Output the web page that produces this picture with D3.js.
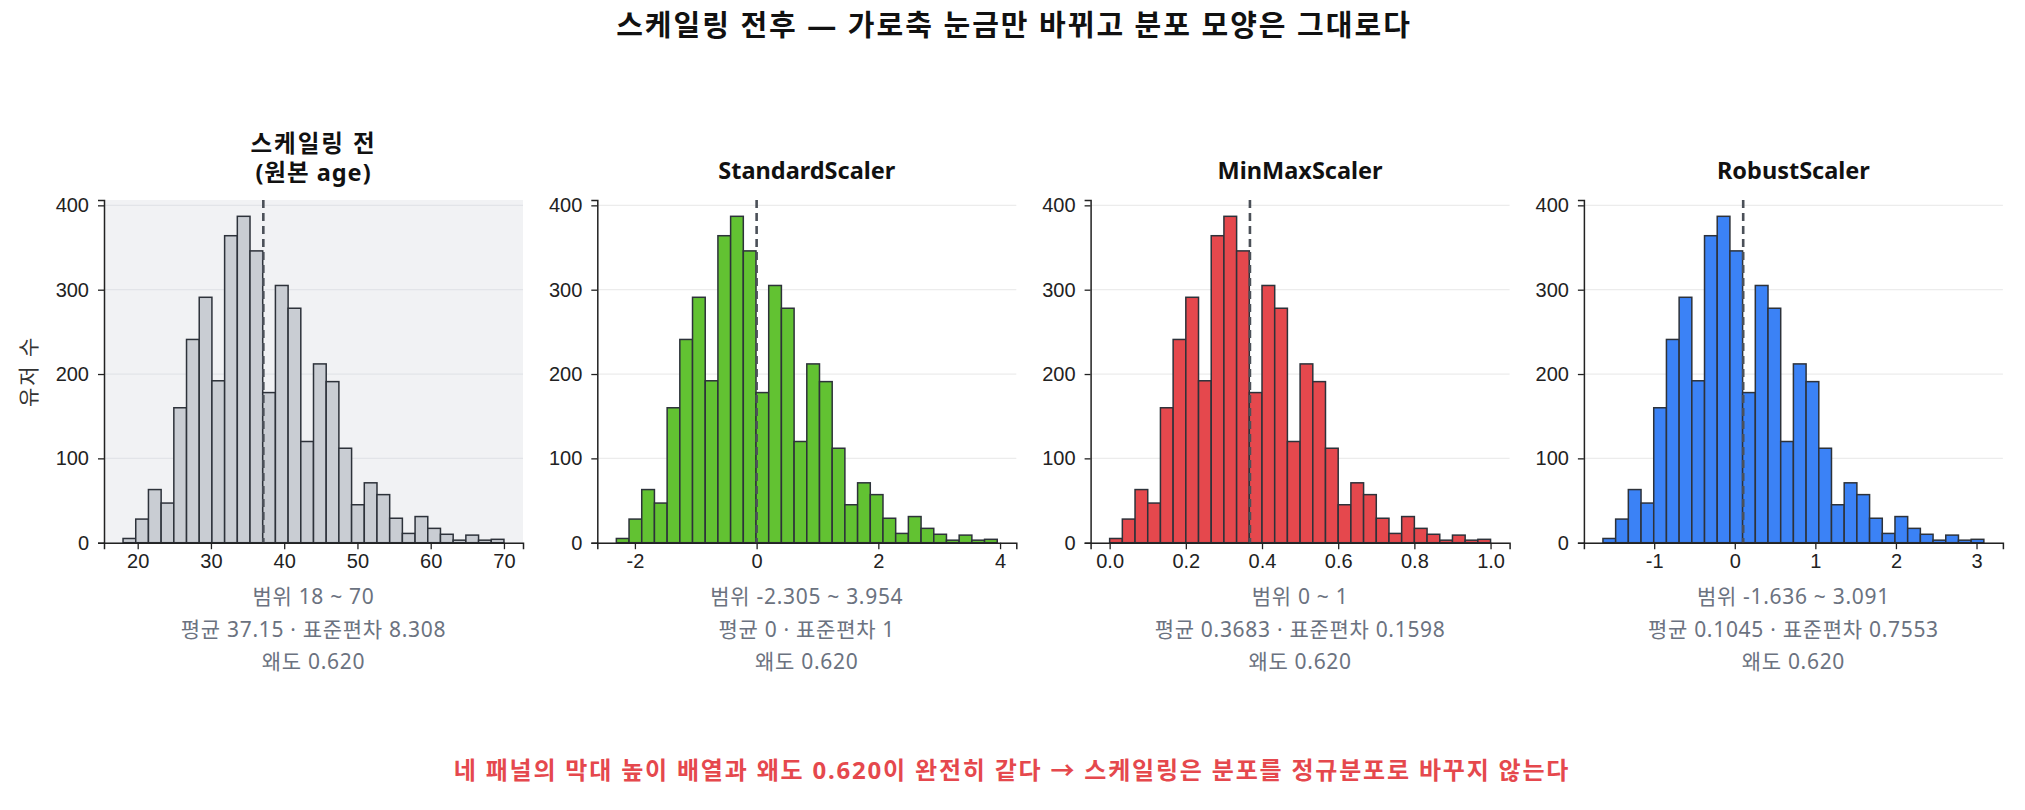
<!DOCTYPE html>
<html lang="ko">
<head>
  <meta charset="UTF-8">
  <title>스케일링 전후 히스토그램</title>
  <script src="https://d3js.org/d3.v7.min.js"></script>
  <style>
    body {
      margin: 0;
      background: #fff;
      font-family: "Noto Sans", "Noto Sans CJK KR", sans-serif;
    }
    svg { display: block; }
    .tick text { font-size: 20px; fill: #222; }
    .stat { font-size: 21px; fill: #6b7280; letter-spacing: 0.7px; }
  </style>
</head>
<body>
<svg width="2025" height="810"></svg>
<script>
  // bin counts (30 bins, identical in every panel)
  const counts = [5, 28, 63, 47, 160, 241, 291, 192, 364, 387, 346, 178, 305, 278, 120,
                  212, 191, 112, 45, 71, 57, 29, 11, 31, 17, 10, 3, 9, 3, 4];

  const titles = [["스케일링 전", "(원본 age)"], ["StandardScaler"], ["MinMaxScaler"], ["RobustScaler"]];
  const colors = ["#c9cdd3", "#62c232", "#e5484d", "#3b82f6"];
  const mins   = [18, -2.305, 0, -1.636];
  const maxs   = [70, 3.954, 1, 3.091];
  const means  = [37.15, 0, 0.3683, 0.1045];
  const stats  = [
    ["범위 18 ~ 70", "평균 37.15 · 표준편차 8.308", "왜도 0.620"],
    ["범위 -2.305 ~ 3.954", "평균 0 · 표준편차 1", "왜도 0.620"],
    ["범위 0 ~ 1", "평균 0.3683 · 표준편차 0.1598", "왜도 0.620"],
    ["범위 -1.636 ~ 3.091", "평균 0.1045 · 표준편차 0.7553", "왜도 0.620"]
  ];
  const xTicks = [
    [20, 30, 40, 50, 60, 70],
    [-2, 0, 2, 4],
    [0, 0.2, 0.4, 0.6, 0.8, 1.0],
    [-1, 0, 1, 2, 3]
  ];
  // plain hyphen for negatives, like the original
  const xFormats = [d => String(d), d => String(d), d => d.toFixed(1), d => String(d)];
  const yTicks = [0, 100, 200, 300, 400];

  const svg = d3.select("svg");
  const edge = "#2d323a";

  const plotTop = 200, plotBottom = 542.7;
  const panelW = 419, panelStep = 493.3, left0 = 104;

  const y = d3.scaleLinear()
    .domain([0, d3.max(counts) * 1.05])
    .range([plotBottom, plotTop]);

  titles.forEach((title, i) => {
    const x0 = left0 + i * panelStep;
    const span = maxs[i] - mins[i];
    const x = d3.scaleLinear()
      .domain([mins[i] - span * 0.05, maxs[i] + span * 0.05])
      .range([x0, x0 + panelW]);
    const edges = d3.range(counts.length + 1).map(k => mins[i] + span * k / counts.length);

    const g = svg.append("g");

    // panel 1 gets a light background
    if (i === 0) {
      g.append("rect")
        .attr("x", x0).attr("y", plotTop)
        .attr("width", panelW).attr("height", plotBottom - plotTop)
        .attr("fill", "#f1f2f4");
    }

    // horizontal grid
    g.append("g").selectAll("line")
      .data(yTicks)
      .join("line")
      .attr("x1", x0).attr("x2", x0 + panelW)
      .attr("y1", d => y(d)).attr("y2", d => y(d))
      .attr("stroke", i === 0 ? "#e2e4e8" : "#ececec")
      .attr("stroke-width", 1.3);

    // bars
    g.append("g").selectAll("rect")
      .data(counts)
      .join("rect")
      .attr("x", (d, k) => x(edges[k]))
      .attr("width", (d, k) => x(edges[k + 1]) - x(edges[k]))
      .attr("y", d => y(d))
      .attr("height", d => y(0) - y(d))
      .attr("fill", colors[i])
      .attr("stroke", edge)
      .attr("stroke-width", 1.5);

    // mean line
    g.append("line")
      .attr("x1", x(means[i])).attr("x2", x(means[i]))
      .attr("y1", plotTop).attr("y2", plotBottom)
      .attr("stroke", "#4b5058")
      .attr("stroke-width", 2.6)
      .attr("stroke-dasharray", "8,5");

    // axes
    const xAxis = d3.axisBottom(x)
      .tickValues(xTicks[i])
      .tickFormat(xFormats[i])
      .tickSize(6.5)
      .tickPadding(5);
    const gx = g.append("g")
      .attr("transform", `translate(0,${plotBottom})`)
      .call(xAxis);
    gx.select(".domain").attr("stroke", "#222").attr("stroke-width", 1.5);
    gx.selectAll(".tick line").attr("stroke", "#222").attr("stroke-width", 1.3);

    const yAxis = d3.axisLeft(y)
      .tickValues(yTicks)
      .tickSize(6)
      .tickPadding(9);
    const gy = g.append("g")
      .attr("transform", `translate(${x0},0)`)
      .call(yAxis);
    gy.select(".domain").attr("stroke", "#222").attr("stroke-width", 1.5);
    gy.selectAll(".tick line").attr("stroke", "#222").attr("stroke-width", 1.3);
    gx.selectAll(".tick text").style("font-family", "inherit");
    gy.selectAll(".tick text").style("font-family", "inherit");

    // panel title
    const cx = x0 + panelW / 2;
    const titleY = title.length === 2 ? [143.3, 171.7] : [170.3];
    title.forEach((t, k) => {
      g.append("text")
        .attr("x", cx).attr("y", titleY[k])
        .attr("text-anchor", "middle")
        .attr("dominant-baseline", "central")
        .attr("font-size", 23.5)
        .attr("letter-spacing", i === 0 ? 2 - k : 0)
        .attr("font-weight", "bold")
        .attr("fill", "#111")
        .text(t);
    });

    // stats under the axis
    const statY = [596.3, 629, 660.7];
    stats[i].forEach((s, k) => {
      g.append("text")
        .attr("class", "stat")
        .attr("x", cx).attr("y", statY[k])
        .attr("text-anchor", "middle")
        .attr("dominant-baseline", "central")
        .text(s);
    });
  });

  // y label
  svg.append("text")
    .attr("transform", `translate(27.5,${(plotTop + plotBottom) / 2}) rotate(-90)`)
    .attr("text-anchor", "middle")
    .attr("dominant-baseline", "central")
    .attr("font-size", 21)
    .attr("letter-spacing", 2)
    .attr("fill", "#333")
    .text("유저 수");

  // suptitle
  svg.append("text")
    .attr("x", 1014).attr("y", 24)
    .attr("text-anchor", "middle")
    .attr("dominant-baseline", "central")
    .attr("font-size", 29)
    .attr("letter-spacing", 2)
    .attr("font-weight", "bold")
    .attr("fill", "#111")
    .text("스케일링 전후 — 가로축 눈금만 바뀌고 분포 모양은 그대로다");

  // footer note
  svg.append("text")
    .attr("x", 1012).attr("y", 769)
    .attr("text-anchor", "middle")
    .attr("dominant-baseline", "central")
    .attr("font-size", 24)
    .attr("letter-spacing", 1.8)
    .attr("font-weight", "bold")
    .attr("fill", "#e5484d")
    .text("네 패널의 막대 높이 배열과 왜도 0.620이 완전히 같다 → 스케일링은 분포를 정규분포로 바꾸지 않는다");
</script>
</body>
</html>
